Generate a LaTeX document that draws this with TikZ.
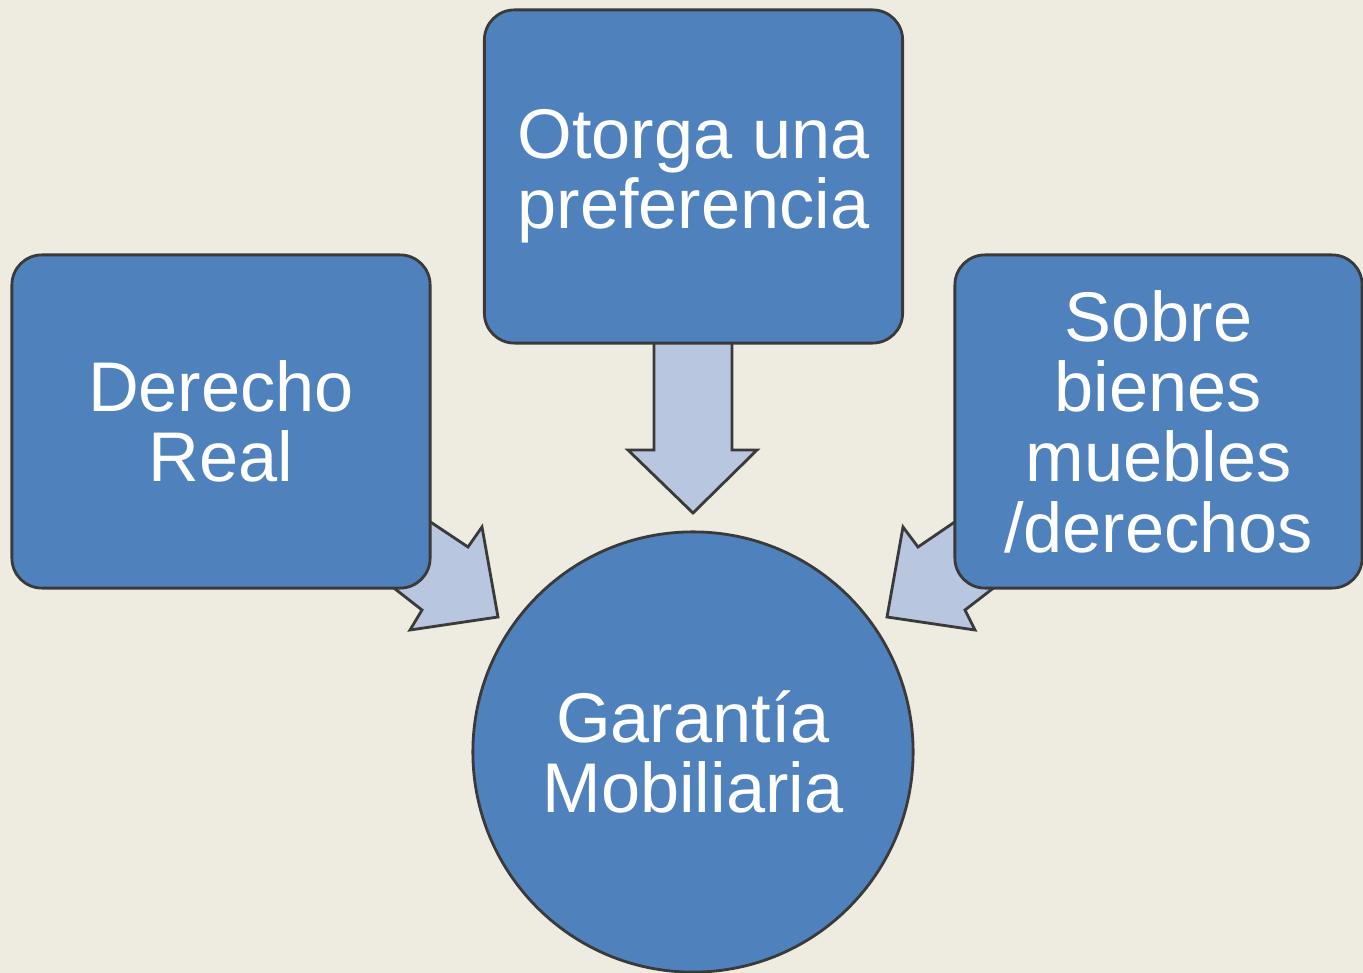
\documentclass[tikz,border=0pt]{standalone}
\usepackage{fontspec}
\setmainfont{Liberation Sans}
\definecolor{bgbeige}{HTML}{EEEBE0}
\definecolor{boxblue}{HTML}{4F81BD}
\definecolor{arrowblue}{HTML}{B9C6DF}
\definecolor{edgegray}{HTML}{3A3A3A}
\tikzset{
  caja/.style={draw=edgegray, line width=0.8pt, fill=boxblue, rounded corners=0.3cm,
    minimum width=4.18cm, minimum height=3.33cm, align=center, text=white,
    font=\fontsize{20}{20}\selectfont},
  bloque/.style={draw=edgegray, line width=0.8pt, fill=arrowblue, line join=miter}
}
\begin{document}
\begin{tikzpicture}[x=0.01cm, y=-0.01cm]
            \fill[bgbeige] (0,0) rectangle (1363,973);
            \useasboundingbox (0,0) rectangle (1363,973);
            % flechas
            \draw[bloque] (654,330) -- (732,330) -- (732,450) -- (757,450) -- (693,513) -- (628,450) -- (654,450) -- cycle;
            \draw[bloque] (420,515) -- (468,547) -- (482,527) -- (498,617) -- (410,630) -- (422,610) -- (390,585) -- cycle;
            \draw[bloque] (965,515) -- (918,547) -- (903,527) -- (887,617) -- (975,630) -- (965,610) -- (1000,583) -- cycle;
            % cajas
            \node[caja] (real) at (221,421.5) {Derecho\\Real};
            \node[caja] (pref) at (693.5,176.5) {Otorga una\\preferencia};
            \node[caja, minimum width=4.07cm] (bienes) at (1158.5,421.5) {Sobre\\bienes\\muebles\\/derechos};
            \node[draw=edgegray, line width=0.8pt, fill=boxblue, circle, minimum size=4.4cm,
              align=center, text=white, font=\fontsize{20}{20}\selectfont] (garantia) at (693,752) {Garantía\\Mobiliaria};
\end{tikzpicture}
\end{document}
